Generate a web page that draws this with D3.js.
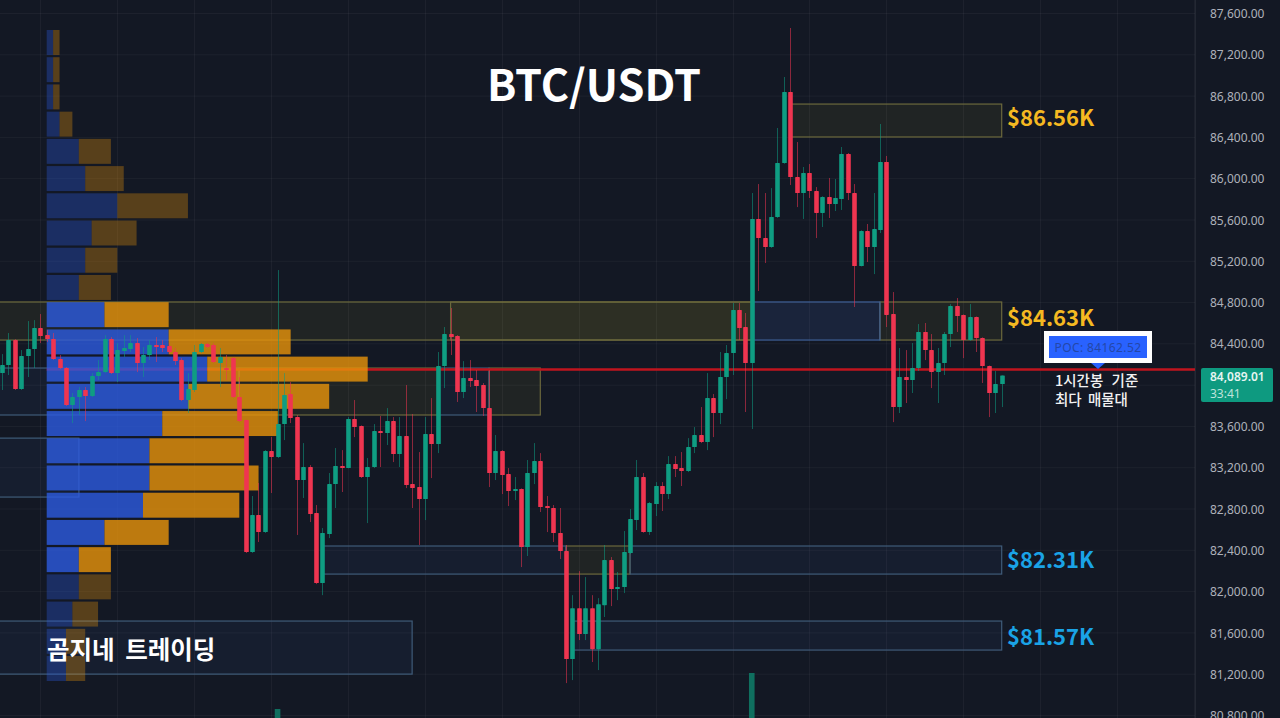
<!DOCTYPE html>
<html><head><meta charset="utf-8">
<script src="https://cdn.jsdelivr.net/npm/d3@7/dist/d3.min.js"></script>
<style>html,body{margin:0;padding:0;background:#131824;overflow:hidden}svg{display:block}
text{font-family:"Noto Sans CJK KR","Noto Sans",sans-serif}</style></head><body>
<svg id="c" width="1280" height="718"></svg>
<script>
const opens=[84112,84190,84432,83958,84277,84345,84548,84480,84442,84248,
84161,83803,83880,83948,83890,84083,84122,84442,84112,84325,
84345,84403,84209,84287,84384,84384,84374,84316,84238,83851,
83948,84316,84393,84384,84209,84161,84257,83880,83657,82379,
82737,82572,83357,83299,83618,83910,83686,83076,83202,82756,
82078,82553,83037,83212,83192,83667,83599,83105,83202,83550,
83531,83647,83328,83502,83037,83008,82892,83521,83424,84180,
84490,84471,83929,84064,84045,83996,83773,83144,83357,83134,
82969,82989,82427,83144,83260,82824,82805,82563,82388,81342,
81835,81584,81835,81438,81864,82301,82020,82040,82369,82688,
83105,82572,82843,83018,82940,83231,83192,83163,83395,83512,
83444,83870,83725,84074,84306,84723,84558,84209,85605,85420,
85333,85624,86147,86835,86011,85856,86050,85875,85663,85817,
85750,85798,86234,85856,85149,85488,85333,85498,86157,84684,
83783,84074,84045,84161,84510,84335,84122,84209,84490,84761,
84675,84432,84655,84451,84180,83919,84006];
const highs=[84296,84500,84440,84335,84616,84625,84684,84529,84500,84287,
84170,83919,83977,83977,84112,84238,84480,84461,84403,84480,
84480,84451,84364,84432,84461,84432,84403,84355,84257,84112,
84384,84403,84403,84403,84355,84287,84267,84074,83660,82921,
83047,83366,83492,85110,84112,84025,83706,83434,83221,82834,
82611,83144,83386,83366,83686,83851,83605,83289,83618,83696,
83773,83686,83686,83996,83715,83347,83686,83870,84316,84558,
84742,84480,84228,84238,84141,84016,84141,83512,83366,83192,
83105,82995,83270,83434,83337,82921,82834,82805,82447,81961,
82194,82136,81961,81932,82447,82330,82185,82582,82795,83270,
83144,82863,83056,83056,83308,83308,83347,83482,83589,83783,
84112,83909,84316,84384,84791,84791,84694,85856,85943,85856,
85904,86486,86980,87455,86350,86108,86137,85914,85825,86002,
85992,86302,86244,85943,85495,85556,85856,86525,86215,84897,
84355,84335,84403,84587,84597,84490,84355,84510,84780,84839,
84680,84781,84660,84458,84185,84132,84089];
const lows=[83948,84093,83948,83948,84074,84161,84403,84412,84238,84151,
83793,83628,83706,83647,83880,84045,84112,84103,84025,84267,
84316,84122,84074,84238,84219,84316,84296,84190,83841,83725,
83929,84306,84355,84209,83977,84045,83870,83637,82369,82370,
82476,82563,82950,83289,83463,83628,82544,82902,82669,82068,
81961,82514,82805,82960,83190,83492,83096,82659,83192,83202,
83415,83250,83202,82998,82805,82447,82688,83095,83337,83967,
84287,83832,83870,83977,83735,83696,83008,83076,82940,82824,
82882,82233,82340,83037,82766,82572,82476,82311,81109,81138,
81526,81526,81313,81235,81749,81855,81913,81981,82360,82592,
82565,82544,82727,82776,82892,83105,83018,83153,83337,83434,
83366,83492,83618,83860,84093,84432,83735,83570,84907,85178,
85325,85615,86140,85934,85720,85605,85808,85420,85527,85614,
85682,85692,85788,84752,85145,85188,85071,85469,84558,83637,
83725,83822,83919,84132,84238,83967,83822,84093,84364,84510,
84257,84425,84316,84016,83686,83725,83783];
const closes=[84190,84432,83958,84277,84345,84548,84471,84442,84248,84161,
83803,83880,83948,83890,84083,84122,84442,84112,84335,84355,
84403,84209,84287,84384,84364,84355,84316,84228,83851,83958,
84316,84393,84364,84219,84267,84141,83880,83647,82379,82737,
82572,83357,83299,83618,83900,83677,83076,83202,82747,82078,
82563,83037,83212,83192,83667,83589,83105,83202,83550,83531,
83647,83328,83502,83027,82998,82892,83521,83424,84180,84490,
84461,83929,84064,84035,83987,83773,83144,83357,83124,82969,
82989,82427,83144,83260,82814,82805,82563,82388,81342,81835,
81584,81835,81438,81874,82301,82020,82040,82379,82698,83105,
82572,82853,83018,82940,83231,83183,83163,83395,83512,83444,
83870,83725,84074,84306,84723,84548,84209,85605,85420,85333,
85624,86147,86835,86011,85856,86050,85875,85663,85817,85750,
85808,86234,85856,85149,85488,85333,85507,86157,84675,83783,
84074,84045,84161,84510,84335,84122,84209,84490,84761,84665,
84432,84655,84451,84180,83919,84006,84089];

const profileBuy=[1,1,1,2,5,6,11,7,6,5,9,19,25,22,18,16,16,15,9,5,5,4,3,3];
const profileSell=[1,1,1,2,5,6,11,7,5,5,10,19,25,22,18,15,17,15,10,5,5,4,3,3];
const valueAreaRows=[10,11,12,13,14,15,16,17,18,19];

const volumeCandles=[43,117];
const volumeValues=[9,45];

const priceTicks=[87600,87200,86800,86400,86000,85600,85200,84800,84400,84000,83600,83200,82800,82400,82000,81600,81200,80800];
const axisLabelTicks=priceTicks.filter(d=>d!==84000);
const timeGridCandles=[6,18,30,42,54,66,78,90,102,114,126,138,150,162,174,186];

// zones: [start candle, end candle, high price, low price]
const goldZones=[[123,156,86718,86399],[-1,117,84801,84432],[70,117,84801,84432],[137,156,84801,84432],
 [37,68,84161,83706],[76,84,84161,83706],[88,98,82437,82165]];
const blueZones=[[-1,37,84161,83706],[68,76,84161,83706],[-1,12,83482,82911],
 [50,88,82437,82165],[98,156,82437,82165],[89,156,81710,81429],[-1,64,81710,81196]];
const strongBlueZones=[[117,137,84801,84432]];

const pocPrice=84146, pocLabel="POC: 84162.52", lastPrice="84,089.01", countdown="33:41";
const levelLabels=[["$86.56K",86590,"#f5b921"],["$84.63K",84650,"#f5b921"],["$82.31K",82310,"#1aa3e6"],["$81.57K",81565,"#1aa3e6"]];

const W=1280,H=718,axisX=1195;
const svg=d3.select("#c");
const x=d3.scaleLinear().domain([0,156]).range([2,1001.7]);
const y=d3.scaleLinear().domain([87600,80800]).range([13,715]);
const vx=d3.scaleLinear().domain([0,1]).range([46.7,53.12]);
const rows=d3.scaleBand().domain(d3.range(profileBuy.length)).range([30,681]).paddingInner(0.083);
const vy=d3.scaleLinear().domain([0,45]).range([718,673]);

svg.append("rect").attr("width",W).attr("height",H).attr("fill","#131824");

// grid
const grid=svg.append("g").attr("stroke","#ffffff").attr("stroke-opacity",.045);
grid.selectAll(".h").data(priceTicks).join("line").attr("x1",0).attr("x2",axisX).attr("y1",d=>y(d)+.5).attr("y2",d=>y(d)+.5);
grid.selectAll(".v").data(timeGridCandles).join("line").attr("y1",0).attr("y2",H).attr("x1",d=>Math.round(x(d))+.5).attr("x2",d=>Math.round(x(d))+.5);
svg.append("line").attr("x1",axisX+.5).attr("x2",axisX+.5).attr("y1",0).attr("y2",H).attr("stroke","#ffffff").attr("stroke-opacity",.07);

// zones
function drawZones(data,fill,fo,stroke){
 svg.append("g").selectAll("rect").data(data).join("rect")
  .attr("x",d=>x(d[0])).attr("width",d=>x(d[1])-x(d[0]))
  .attr("y",d=>y(d[2])).attr("height",d=>y(d[3])-y(d[2]))
  .attr("fill",fill).attr("fill-opacity",fo).attr("stroke",stroke).attr("stroke-width",1.2);
}
drawZones(goldZones,"#ffe93b",.06,"#6b683c");
drawZones(blueZones,"#4a7fd6",.065,"#3f5b78");
drawZones(strongBlueZones,"#4a7fd6",.13,"#3e5f96");

// POC line (under the translucent profile)
svg.append("line").attr("x1",vx(0)).attr("x2",axisX).attr("y1",y(pocPrice)).attr("y2",y(pocPrice)).attr("stroke","#c0141e").attr("stroke-width",2.6);

// profile
const pr=svg.append("g");
const bright=i=>valueAreaRows.includes(i);
pr.selectAll(".b").data(profileBuy).join("rect").attr("x",vx(0)).attr("y",(d,i)=>rows(i)).attr("height",rows.bandwidth())
 .attr("width",d=>vx(d)-vx(0)).attr("fill","#2d5be0").attr("fill-opacity",(d,i)=>bright(i)?.8:.34);
pr.selectAll(".s").data(profileSell).join("rect").attr("x",(d,i)=>vx(profileBuy[i])).attr("y",(d,i)=>rows(i)).attr("height",rows.bandwidth())
 .attr("width",d=>vx(d)-vx(0)).attr("fill","#e8930a").attr("fill-opacity",(d,i)=>bright(i)?.8:.33);

// volume bars
svg.append("g").selectAll("rect").data(volumeCandles).join("rect")
 .attr("x",d=>x(d)-2.8).attr("width",5.6).attr("y",(d,i)=>vy(volumeValues[i])).attr("height",(d,i)=>H-vy(volumeValues[i]))
 .attr("fill","#0f6f5f");

// candles
const up=i=>closes[i]>=opens[i];
const RED="#ef3550",GREEN="#0f9d82";
const cg=svg.append("g");
cg.selectAll(".w").data(opens).join("line").attr("x1",(d,i)=>Math.round(x(i))+.5).attr("x2",(d,i)=>Math.round(x(i))+.5)
 .attr("y1",(d,i)=>y(highs[i])).attr("y2",(d,i)=>y(lows[i])).attr("stroke",(d,i)=>up(i)?GREEN:RED).attr("stroke-opacity",.55);
cg.selectAll(".bd").data(opens).join("rect").attr("x",(d,i)=>Math.round(x(i))+.5-2.3).attr("width",4.6)
 .attr("y",(d,i)=>y(Math.max(opens[i],closes[i])))
 .attr("height",(d,i)=>Math.max(1.5,Math.abs(y(opens[i])-y(closes[i]))))
 .attr("fill",(d,i)=>up(i)?GREEN:RED).attr("rx",.6);

// price axis
const axis=svg.append("g").attr("transform",`translate(1201,0.8)`).call(
 d3.axisRight(y).tickValues(axisLabelTicks).tickSize(0).tickPadding(9).tickFormat(d3.format(",.2f")));
axis.select(".domain").remove();
axis.selectAll("text").attr("fill","#aeb1ba").attr("font-size",12).style("font-family",'"Noto Sans",sans-serif');

// last price tag
svg.append("rect").attr("x",1201).attr("y",368).attr("width",72).attr("height",34).attr("rx",2).attr("fill","#0e9a80");
svg.append("text").attr("x",1210).attr("y",380.5).attr("fill","#e6f5f2").attr("font-size",12).attr("font-weight",600).style("font-family",'"Noto Sans",sans-serif').text(lastPrice);
svg.append("text").attr("x",1210).attr("y",397.5).attr("fill","#bfe3db").attr("font-size",12).style("font-family",'"Noto Sans",sans-serif').text(countdown);

// title + labels
svg.append("text").attr("x",487).attr("y",101).attr("fill","#fff").attr("font-size",43).attr("font-weight",700).attr("textLength",214).attr("lengthAdjust","spacingAndGlyphs").text("BTC/USDT");
svg.append("g").selectAll("text").data(levelLabels).join("text").attr("x",1007).attr("y",d=>y(d[1])+8.5)
 .attr("fill",d=>d[2]).attr("font-size",22).attr("font-weight",700).text(d=>d[0]);
svg.append("text").attr("x",47).attr("y",659).attr("fill","#fff").attr("font-size",24.5).attr("font-weight",700).attr("word-spacing",5).text("곰지네 트레이딩");

// POC box
svg.append("rect").attr("x",1044).attr("y",331).attr("width",108).attr("height",32).attr("fill","#fff");
svg.append("rect").attr("x",1049).attr("y",336).attr("width",98).attr("height",22).attr("fill","#2962ff");
svg.append("path").attr("d",d3.line()([[1091,363],[1105,363],[1098,369]])).attr("fill","#2962ff");
svg.append("text").attr("x",1098).attr("y",351.5).attr("text-anchor","middle").attr("fill","#2447a8").attr("font-size",12).attr("letter-spacing",.4).style("font-family",'"Noto Sans",sans-serif').text(pocLabel);
svg.append("text").attr("x",1055).attr("y",386).attr("fill","#f2f2f2").attr("font-size",14.5).attr("font-weight",500).attr("word-spacing",5).text("1시간봉 기준");
svg.append("text").attr("x",1055).attr("y",405).attr("fill","#f2f2f2").attr("font-size",14.5).attr("font-weight",500).attr("word-spacing",3).text("최다 매물대");
</script></body></html>
